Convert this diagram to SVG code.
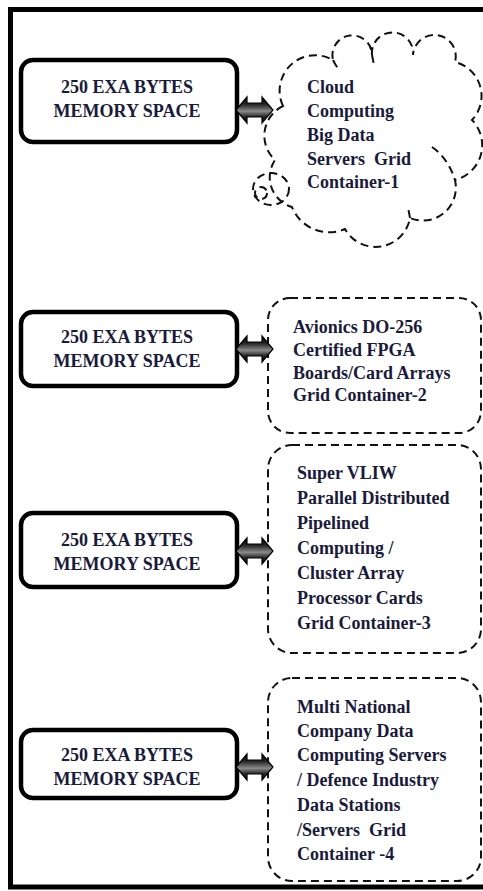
<svg xmlns="http://www.w3.org/2000/svg" width="483" height="891" viewBox="0 0 483 891">
<defs>
<linearGradient id="ag" x1="0" y1="0" x2="0" y2="1">
<stop offset="0" stop-color="#000"/>
<stop offset="0.3" stop-color="#2a2a2a"/>
<stop offset="0.55" stop-color="#8a8a8a"/>
<stop offset="0.75" stop-color="#2a2a2a"/>
<stop offset="1" stop-color="#000"/>
</linearGradient>
<path id="arr" d="M0,0 L11,-13 L11,-7 L26,-7 L26,-13 L37,0 L26,13 L26,7 L11,7 L11,13 Z"/>
</defs>
<style>
.mem{fill:#fff;stroke:#000;stroke-width:4.5}
.dash{fill:none;stroke:#111;stroke-width:2;stroke-dasharray:8 5}
.t{font-family:"Liberation Serif","Times New Roman",serif;font-weight:bold;font-size:18px;fill:#1a1a3a}
.c{text-anchor:middle}
.arrow{fill:url(#ag);stroke:#000;stroke-width:1.2}
</style>
<rect x="10.5" y="9.5" width="500" height="877.5" fill="none" stroke="#000" stroke-width="5"/>

<g id="mem1">
<rect class="mem" x="21" y="60" width="216" height="82" rx="12"/>
<text class="t c" x="127" y="93">250 EXA BYTES</text>
<text class="t c" x="127" y="117">MEMORY SPACE</text>
</g>
<g id="mem2">
<rect class="mem" x="21" y="312" width="216" height="74" rx="12"/>
<text class="t c" x="127" y="343">250 EXA BYTES</text>
<text class="t c" x="127" y="367">MEMORY SPACE</text>
</g>
<g id="mem3">
<rect class="mem" x="21" y="513" width="216" height="74" rx="12"/>
<text class="t c" x="127" y="546">250 EXA BYTES</text>
<text class="t c" x="127" y="570">MEMORY SPACE</text>
</g>
<g id="mem4">
<rect class="mem" x="21" y="730" width="216" height="68" rx="12"/>
<text class="t c" x="127" y="761">250 EXA BYTES</text>
<text class="t c" x="127" y="785">MEMORY SPACE</text>
</g>

<g id="cloud1">
<path class="dash" d="M283,106 A35.6,35.6 0 0 1 333,60 A19.8,19.8 0 1 1 372,55 A20.6,20.6 0 1 1 413,55 A21.4,21.4 0 1 1 455,62 A35,35 0 0 1 472,120 A36,36 0 0 1 455,180 A33,33 0 0 1 410,218 A35,35 0 0 1 345,229 A40,40 0 0 1 292,207 A31,31 0 0 1 275,160 A33,33 0 0 1 283,106 Z"/>
<path class="dash" d="M432,147 Q448,158 455,180"/>
<path class="dash" d="M410,218 L408,207"/>
<path class="dash" d="M333,60 Q336,66 339,70"/>
<path class="dash" d="M372,55 L374,65"/>
<ellipse class="dash" cx="271" cy="189" rx="18" ry="16"/>
<ellipse class="dash" cx="261" cy="193" rx="6" ry="6"/>
<text class="t" x="307" y="93">Cloud</text>
<text class="t" x="307" y="117">Computing</text>
<text class="t" x="307" y="141">Big Data</text>
<text class="t" x="307" y="164.5" xml:space="preserve">Servers  Grid</text>
<text class="t" x="307" y="188">Container-1</text>
</g>

<g id="grid2">
<rect class="dash" x="268" y="298" width="213" height="135" rx="22"/>
<text class="t" x="293" y="333">Avionics DO-256</text>
<text class="t" x="293" y="356">Certified FPGA</text>
<text class="t" x="293" y="379">Boards/Card Arrays</text>
<text class="t" x="293" y="401">Grid Container-2</text>
</g>

<g id="grid3">
<rect class="dash" x="268" y="445" width="213" height="208" rx="24"/>
<text class="t" x="297" y="479">Super VLIW</text>
<text class="t" x="297" y="504">Parallel Distributed</text>
<text class="t" x="297" y="529">Pipelined</text>
<text class="t" x="297" y="554">Computing /</text>
<text class="t" x="297" y="579">Cluster Array</text>
<text class="t" x="297" y="604">Processor Cards</text>
<text class="t" x="297" y="629">Grid Container-3</text>
</g>

<g id="grid4">
<rect class="dash" x="268" y="678" width="213" height="203" rx="24"/>
<text class="t" x="297" y="713">Multi National</text>
<text class="t" x="297" y="737">Company Data</text>
<text class="t" x="297" y="761">Computing Servers</text>
<text class="t" x="297" y="786">/ Defence Industry</text>
<text class="t" x="297" y="811">Data Stations</text>
<text class="t" x="297" y="836" xml:space="preserve">/Servers  Grid</text>
<text class="t" x="297" y="860">Container -4</text>
</g>

<g id="connectors">
<use href="#arr" class="arrow" x="236" y="110"/>
<use href="#arr" class="arrow" x="236" y="349"/>
<use href="#arr" class="arrow" x="236" y="551"/>
<use href="#arr" class="arrow" x="236" y="767"/>
</g>
</svg>
